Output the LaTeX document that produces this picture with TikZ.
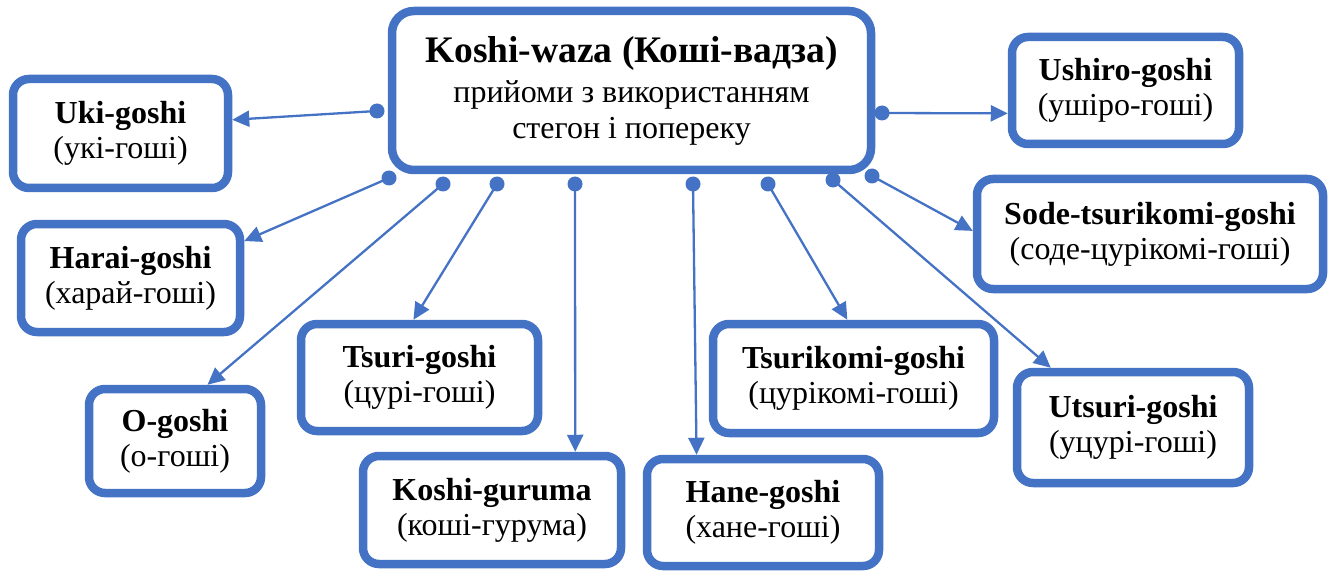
\documentclass[tikz,border=0pt]{standalone}
\usepackage{fontspec}
\setmainfont{Liberation Serif}
\usetikzlibrary{arrows.meta}
\definecolor{wazablue}{HTML}{4472C4}
\tikzset{
  techbox/.style={draw=wazablue, line width=8.5pt, rounded corners=16pt, fill=white,
    align=center, inner sep=0pt, font=\fontsize{32}{35}\selectfont},
  dot/.style={circle, fill=wazablue, inner sep=0pt, minimum size=15pt},
  conn/.style={draw=wazablue, line width=2.3pt, -{Triangle[length=17pt,width=16pt]}},
}
\begin{document}
\begin{tikzpicture}[x=1pt,y=-1pt]
\useasboundingbox (0,0) rectangle (1330,572);

% central box
\node[techbox, minimum width=479pt, minimum height=159pt, rounded corners=22pt,
  font=\fontsize{32}{36}\selectfont] (koshi) at (631.5,90.5)
  {{\fontsize{37.5}{36}\selectfont\bfseries Koshi-waza (Коші-вадза)}\\[4pt]прийоми з використанням\\стегон і попереку};

% throws
\node[techbox, minimum width=215pt, minimum height=109pt] (uki) at (120.5,133.5)
  {\textbf{Uki-goshi}\\(укі-гоші)};
\node[techbox, minimum width=219pt, minimum height=108pt] (harai) at (130.5,278)
  {\textbf{Harai-goshi}\\(харай-гоші)};
\node[techbox, minimum width=172pt, minimum height=104pt] (ogoshi) at (175,441)
  {\textbf{O-goshi}\\(о-гоші)};
\node[techbox, minimum width=237pt, minimum height=107pt] (tsuri) at (419.5,377.5)
  {\textbf{Tsuri-goshi}\\(цурі-гоші)};
\node[techbox, minimum width=258pt, minimum height=108pt] (guruma) at (492,510)
  {\textbf{Koshi-guruma}\\(коші-гурума)};
\node[techbox, minimum width=232pt, minimum height=107pt] (hane) at (763,512.5)
  {\textbf{Hane-goshi}\\(хане-гоші)};
\node[techbox, minimum width=281pt, minimum height=109pt] (tsurikomi) at (853.5,378.5)
  {\textbf{Tsurikomi-goshi}\\(цурікомі-гоші)};
\node[techbox, minimum width=232pt, minimum height=111pt] (utsuri) at (1133,427.5)
  {\textbf{Utsuri-goshi}\\(уцурі-гоші)};
\node[techbox, minimum width=346pt, minimum height=110pt] (sode) at (1150,234)
  {\textbf{Sode-tsurikomi-goshi}\\(соде-цурікомі-гоші)};
\node[techbox, minimum width=227pt, minimum height=107pt] (ushiro) at (1125.5,90.5)
  {\textbf{Ushiro-goshi}\\(ушіро-гоші)};

% connector origins on the central box
\coordinate (p-uki) at (377,111);
\coordinate (p-ushiro) at (882,113);
\coordinate (p-harai) at (389,178);
\coordinate (p-ogoshi) at (443,184);
\coordinate (p-tsuri) at (497,184);
\coordinate (p-guruma) at (575,184);
\coordinate (p-hane) at (693,184);
\coordinate (p-tsurikomi) at (768,184);
\coordinate (p-utsuri) at (833,180);
\coordinate (p-sode) at (872,176);

% connectors
\draw[conn] (p-uki) -- (uki.7);
\draw[conn] (p-harai) -- (harai.18);
\draw[conn] (p-ogoshi) -- (ogoshi.60);
\draw[conn] (p-tsuri) -- (tsuri.96);
\draw[conn] (p-guruma) -- (guruma.35);
\draw[conn] (p-hane) -- (hane.139);
\draw[conn] (p-tsurikomi) -- (tsurikomi.96);
\draw[conn] (p-utsuri) -- (utsuri.144);
\draw[conn] (p-sode) -- (sode.179);
\draw[conn] (p-ushiro) -- (ushiro.191);

% dots
\foreach \p in {uki,ushiro,harai,ogoshi,tsuri,guruma,hane,tsurikomi,utsuri,sode}
  \node[dot] at (p-\p) {};
\end{tikzpicture}
\end{document}
